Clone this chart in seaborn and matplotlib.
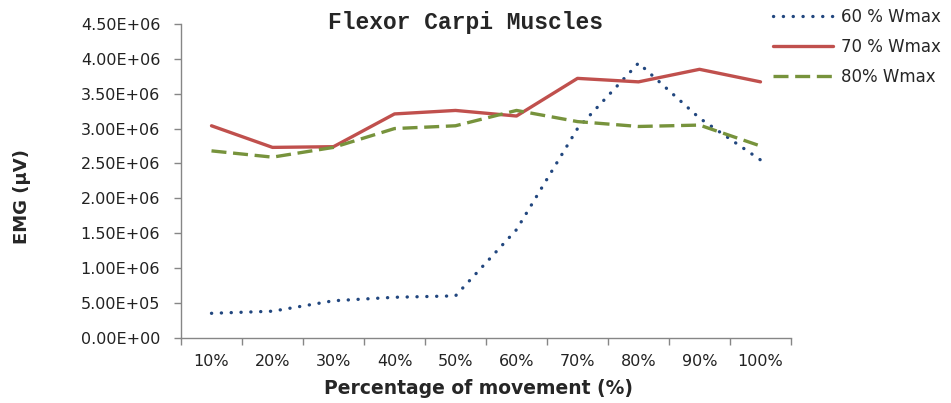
import matplotlib
matplotlib.use("Agg")
import matplotlib.pyplot as plt
import numpy as np
import pandas as pd
import seaborn as sns

# Values
categories = ["10%", "20%", "30%", "40%", "50%", "60%", "70%", "80%", "90%", "100%"]
w60 = [0.35e6, 0.38e6, 0.53e6, 0.58e6, 0.60e6, 1.55e6, 3.00e6, 3.94e6, 3.15e6, 2.55e6]
w70 = [3.04e6, 2.73e6, 2.74e6, 3.21e6, 3.26e6, 3.18e6, 3.72e6, 3.67e6, 3.85e6, 3.67e6]
w80 = [2.68e6, 2.59e6, 2.73e6, 3.00e6, 3.04e6, 3.26e6, 3.10e6, 3.03e6, 3.05e6, 2.75e6]
series_names = ["60 % Wmax", "70 % Wmax", "80% Wmax"]
y_ticks = [0, 0.5e6, 1.0e6, 1.5e6, 2.0e6, 2.5e6, 3.0e6, 3.5e6, 4.0e6, 4.5e6]

df = pd.DataFrame({
    "pos": np.tile(np.arange(len(categories)), 3),
    "emg": w60 + w70 + w80,
    "series": np.repeat(series_names, len(categories)),
})

sns.set_style("white")
plt.rcParams["font.family"] = ["DejaVu Sans"]
plt.rcParams["xtick.bottom"] = True
plt.rcParams["ytick.left"] = True

fig = plt.figure(figsize=(9.51, 4.03), dpi=100)
ax = fig.add_axes([181 / 951, 1 - 337.7 / 403, 610 / 951, 313.7 / 403])

colors = {"60 % Wmax": "#22477f", "70 % Wmax": "#c0504d", "80% Wmax": "#77933c"}
styles = {
    "60 % Wmax": (0, (0.05, 2.9)),
    "70 % Wmax": "-",
    "80% Wmax": (0, (4.5, 2.0)),
}

for name in series_names:
    sub = df[df["series"] == name]
    sns.lineplot(data=sub, x="pos", y="emg", ax=ax, color=colors[name],
                 linewidth=2.4, label=name)
    line = ax.lines[-1]
    line.set_linestyle(styles[name])
    line.set_dash_capstyle("round" if name == "60 % Wmax" else "butt")

ax.set_xlim(-0.5, len(categories) - 0.5)
ax.set_ylim(0, 4.5e6)
ax.set_yticks(y_ticks)
ax.set_yticklabels([f"{v:.2E}" for v in y_ticks])

# category boundaries get tick marks, labels sit at category centres
ax.set_xticks(np.arange(len(categories) + 1) - 0.5)
ax.set_xticklabels([])
ax.set_xticks(np.arange(len(categories)), minor=True)
ax.set_xticklabels(categories, minor=True)
ax.tick_params(axis="x", which="major", bottom=True, length=5, width=1,
               color="#868686", direction="out")
ax.tick_params(axis="x", which="minor", bottom=False, length=0, pad=12,
               labelsize=11.5, labelcolor="#222222")
ax.tick_params(axis="y", which="major", left=True, length=5, width=1,
               color="#868686", direction="out", pad=10, labelsize=11.5,
               labelcolor="#222222")
ax.set_xlabel("")
ax.set_ylabel("")

for side in ["top", "right"]:
    ax.spines[side].set_visible(False)
for side in ["left", "bottom"]:
    ax.spines[side].set_color("#868686")
    ax.spines[side].set_linewidth(1)

ax.legend(loc="upper left", bbox_to_anchor=(773 / 951, 1 - 8 / 403),
          bbox_transform=fig.transFigure, frameon=False, fontsize=12,
          handlelength=3.6, handletextpad=0.5, labelspacing=0.72,
          borderpad=0, borderaxespad=0)

fig.text(465 / 951, 1 - 22 / 403, "Flexor Carpi Muscles", ha="center", va="center",
         fontsize=16.5, family="Liberation Mono", fontweight="bold")
fig.text(478 / 951, 1 - 389 / 403, "Percentage of movement (%)", ha="center",
         va="center", fontsize=13.5, fontweight="bold")
fig.text(22 / 951, 1 - 197 / 403, "EMG (μV)", ha="center", va="center",
         rotation=90, fontsize=13, fontweight="bold")

fig.savefig("out.png", dpi=100)
